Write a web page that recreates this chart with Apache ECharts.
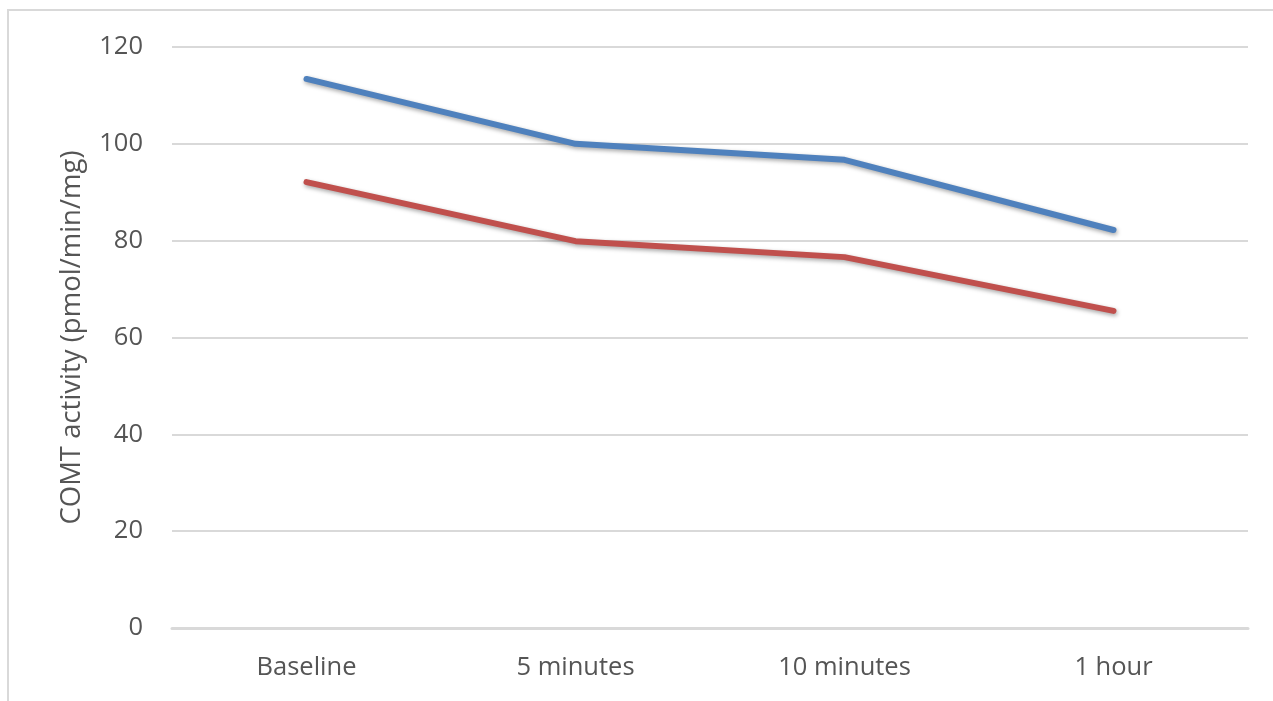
<!DOCTYPE html>
<html>
<head>
<meta charset="utf-8">
<script src="https://cdn.jsdelivr.net/npm/echarts@6/dist/echarts.min.js"></script>
<style>
html,body{margin:0;padding:0;background:#fff;}
#chart{width:1273px;height:701px;}
</style>
</head>
<body>
<div id="chart"></div>
<script>
// Time points and COMT activity for the two groups
const categories = ['Baseline', '5 minutes', '10 minutes', '1 hour'];
const blueSeries = [113.4, 100.0, 96.7, 82.2];
const redSeries = [92.1, 79.9, 76.6, 65.5];
const yTicks = { min: 0, max: 120, interval: 20 };
const yTitle = 'COMT activity (pmol/min/mg)';

const font = '"Open Sans", Lato, sans-serif';
const chart = echarts.init(document.getElementById('chart'));

function lineSeries(data, color) {
  return {
    type: 'line',
    data: data,
    symbol: 'none',
    lineStyle: {
      color: color,
      width: 6,
      cap: 'round',
      join: 'round',
      shadowColor: 'rgba(0,0,0,0.35)',
      shadowBlur: 4,
      shadowOffsetX: 1,
      shadowOffsetY: 2
    },
    itemStyle: { color: color },
    silent: true
  };
}

chart.setOption({
  animation: false,
  backgroundColor: '#ffffff',
  graphic: [{
    type: 'rect',
    shape: { x: 8, y: 10, width: 1290, height: 720 },
    style: { fill: 'none', stroke: '#d9d9d9', lineWidth: 2 },
    silent: true,
    z: -1
  }],
  grid: { left: 172, right: 25, top: 47, bottom: 73, containLabel: false },
  xAxis: {
    type: 'category',
    data: categories,
    boundaryGap: true,
    axisLine: { show: true, lineStyle: { color: '#d9d9d9', width: 3 } },
    axisTick: { show: false },
    axisLabel: { color: '#555555', fontFamily: font, fontSize: 25.5, margin: 27 },
    splitLine: { show: false }
  },
  yAxis: {
    type: 'value',
    min: yTicks.min,
    max: yTicks.max,
    interval: yTicks.interval,
    axisLine: { show: false },
    axisTick: { show: false },
    axisLabel: { color: '#555555', fontFamily: font, fontSize: 25.5, margin: 29 },
    splitLine: { show: true, lineStyle: { color: '#d9d9d9', width: 2 } },
    name: yTitle,
    nameLocation: 'middle',
    nameGap: 86,
    nameRotate: 90,
    nameTextStyle: { color: '#555555', fontFamily: font, fontSize: 27.5 }
  },
  series: [
    lineSeries(blueSeries, '#4f81bd'),
    lineSeries(redSeries, '#c0504d')
  ]
});
</script>
</body>
</html>
